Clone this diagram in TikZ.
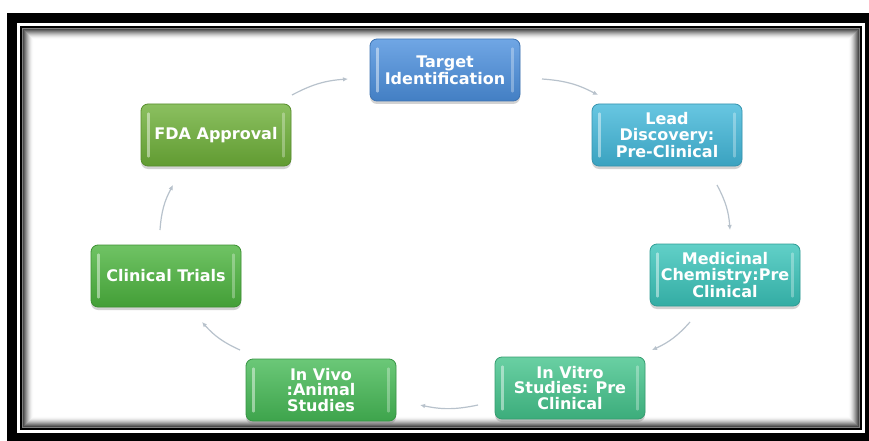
\documentclass[tikz,border=0pt]{standalone}
\usepackage{fontspec}
\newfontfamily\boxfont{DejaVu Sans}
\usetikzlibrary{calc,shadows,arrows.meta}

\definecolor{cTarget}{RGB}{76,144,222}
\definecolor{cLead}{RGB}{66,184,218}
\definecolor{cMed}{RGB}{58,196,186}
\definecolor{cVitro}{RGB}{68,196,140}
\definecolor{cVivo}{RGB}{70,186,86}
\definecolor{cClin}{RGB}{76,180,62}
\definecolor{cFDA}{RGB}{110,176,56}
\definecolor{linkgray}{RGB}{184,194,204}

\tikzset{
  stage/.style={rounded corners=7pt, minimum width=150pt, minimum height=62pt,
    inner sep=2pt, align=center, text=white,
    font=\boxfont\bfseries\fontsize{16}{15.5}\selectfont,
    draw=#1!80!black, line width=0.8pt,
    top color=#1!80!white, middle color=#1, bottom color=#1!88!black,
    drop shadow={opacity=0.35, shadow xshift=0pt, shadow yshift=-3pt}},
  link/.style={draw=linkgray, line width=1.2pt, -{Latex[length=5pt,width=4.5pt]}, bend left=12},
  gloss/.style={white, line width=2.6pt, line cap=round},
}

\begin{document}
\begin{tikzpicture}[x=1pt, y=-1pt]
  \useasboundingbox (0,0) rectangle (869,441);
  \fill[white] (0,0) rectangle (869,441);

  % double frame with an inner shadow
  \fill[black] (7,13) rectangle (869,441);
  \fill[white] (17,23) rectangle (865,433);
  \draw[black, line width=2.2pt] (21,27) rectangle (861,429);
  \foreach \i in {1,...,11}{
    \pgfmathsetmacro{\op}{0.5*(1-(\i-1)/11)^2}
    \draw[black, opacity=\op, line width=1.05pt] ({22+\i},{28+\i}) rectangle ({860-\i},{428-\i});
  }

  % stages of the cycle
  \node[stage=cTarget] (t)  at (445,70)  {Target\\Identification};
  \node[stage=cLead]   (l)  at (667,135) {Lead\\Discovery:\\Pre-Clinical};
  \node[stage=cMed]    (m)  at (725,275) {Medicinal\\Chemistry:Pre\\Clinical};
  \node[stage=cVitro]  (v)  at (570,388) {In Vitro\\Studies: Pre\\Clinical};
  \node[stage=cVivo]   (vv) at (321,390) {In Vivo\\:Animal\\Studies};
  \node[stage=cClin]   (c)  at (166,276) {Clinical Trials};
  \node[stage=cFDA]    (f)  at (216,135) {FDA Approval};

  % glossy highlight bars
  \foreach \n in {t,l,m,v,vv,c,f}{
    \draw[gloss, opacity=0.45] ($(\n.north west)+(8,10)$) -- ($(\n.south west)+(8,-10)$);
    \draw[gloss, opacity=0.3]  ($(\n.north east)+(-8,10)$) -- ($(\n.south east)+(-8,-10)$);
  }

  % connectors around the cycle
  \draw[link] ($(t)+(97,9)$)    to ($(l)+(-69,-40)$);
  \draw[link] ($(l)+(50,50)$)   to ($(m)+(5,-45)$);
  \draw[link] ($(m)+(-35,47)$)  to ($(v)+(82,-38)$);
  \draw[link] ($(v)+(-92,17)$)  to ($(vv)+(99,15)$);
  \draw[link] ($(vv)+(-81,-40)$) to ($(c)+(36,46)$);
  \draw[link] ($(c)+(-6,-46)$)  to ($(f)+(-43,50)$);
  \draw[link] ($(f)+(76,-40)$)  to ($(t)+(-97,9)$);
\end{tikzpicture}
\end{document}
